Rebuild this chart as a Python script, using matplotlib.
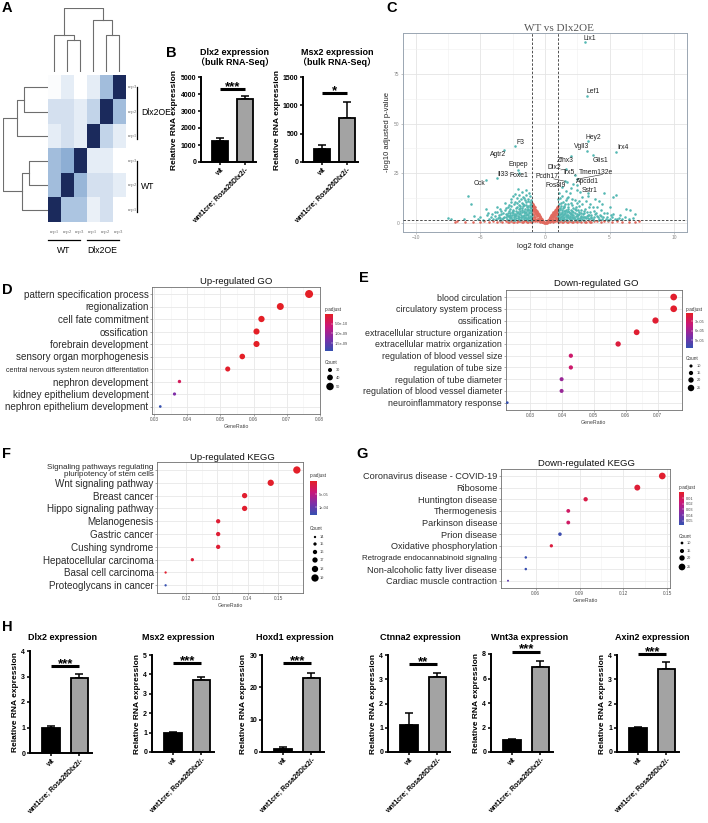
import numpy as np
import matplotlib
matplotlib.use("Agg")
import matplotlib.pyplot as plt
from matplotlib.colors import LinearSegmentedColormap, Normalize
from matplotlib.cm import ScalarMappable

plt.rcParams['font.family'] = ['Liberation Sans', 'Noto Sans CJK SC', 'DejaVu Sans']

# ======================= DATA =======================
# A: sample-to-sample heatmap
hm_row_labels = ["rep3", "rep2", "rep1", "rep3", "rep2", "rep1"]
hm_col_labels = ["rep1", "rep2", "rep3", "rep1", "rep2", "rep3"]
hm_values = [
    [0.02, 0.15, 0.00, 0.15, 0.50, 1.00],
    [0.25, 0.25, 0.15, 0.35, 1.00, 0.50],
    [0.15, 0.25, 0.15, 1.00, 0.35, 0.15],
    [0.50, 0.60, 1.00, 0.15, 0.15, 0.00],
    [0.50, 1.00, 0.55, 0.25, 0.25, 0.15],
    [1.00, 0.45, 0.45, 0.12, 0.25, 0.00],
]
hm_col_merges = [(1, 2, 0.50), (0, 6, 0.58), (4, 5, 0.58), (3, 8, 0.82), (7, 9, 1.00)]
hm_row_merges = [(0, 1, 0.54), (2, 6, 0.68), (3, 4, 0.43), (5, 8, 0.57), (7, 9, 1.00)]
hm_row_groups = ["Dlx2OE", "WT"]
hm_col_groups = ["WT", "Dlx2OE"]

# B: bulk RNA-seq bars
groups = ["wt", "wnt1cre; Rosa26Dlx2/-"]
bulk_genes = ["Dlx2", "Msx2"]
bulk_means = [[1230, 3690], [235, 776]]
bulk_sems = [[190, 170], [70, 290]]
bulk_sig = ["***", "*"]
bulk_sig_y = [4310, 1218]
bulk_ymax = [5000, 1500]
bulk_ystep = [1000, 500]

# C: volcano
down_x = [-7.5, -7.3, -6.0, -5.7, -4.6, -4.5, -4.0, -3.9, -3.6, -3.4, -3.2, -3.0, -2.9, -2.8, -2.7, -2.6,
          -2.5, -2.4, -2.3, -2.2, -2.1, -2.0, -1.9, -1.8, -1.8, -1.7, -1.6, -1.6, -1.5, -1.5, -1.4, -1.4,
          -1.3, -1.3, -1.2, -1.2, -1.1, -1.1, -1.05, -1.9, -2.1, -2.3, -2.6, -3.1, -3.3, -2.0, -1.6, -1.3,
          -2.5, -3.5, -1.7, -2.2, -1.5, -1.2, -1.1, -2.7, -3.7, -2.4, -2.8, -1.45,
          -1.05, -1.1, -1.15, -1.25, -1.25, -1.35, -1.35, -1.45, -1.5, -1.55, -1.65, -1.65, -1.75, -1.75,
          -1.85, -1.85, -1.95, -2.05, -2.05, -2.15, -2.25, -2.25, -2.35, -2.45, -2.55, -2.65, -2.75,
          -2.85, -2.95, -3.05, -3.25, -3.45, -3.55, -3.8, -4.2, -1.1, -1.4, -1.9, -2.3, -2.8, -4.8,
          -5.2, -1.2, -1.35, -1.6,
          -1.02, -1.08, -1.12, -1.18, -1.22, -1.28, -1.32, -1.38, -1.42, -1.48, -1.52, -1.58, -1.62, -1.68,
          -1.72, -1.78, -1.82, -1.88, -1.92, -1.98, -2.02, -2.08, -2.12, -2.18, -2.22, -2.28, -2.32, -2.38,
          -2.42, -2.48, -2.52, -2.58, -2.62, -2.68, -2.72, -2.78, -2.88, -2.92, -3.02, -3.12, -3.22, -3.38,
          -3.5, -3.65, -3.75, -3.9, -4.1, -4.3, -4.4, -5.0, -5.5, -6.3, -1.55, -1.85, -2.45, -1.25, -2.0]
down_y = [2.6, 1.8, 13.5, 9.5, 7.2, 3.8, 2.2, 5.5, 4.0, 6.0, 3.0, 7.5, 5.2, 9.0, 2.5, 12.0,
          6.5, 4.0, 14.5, 8.0, 17.0, 11.0, 5.0, 15.5, 3.0, 9.5, 12.5, 6.0, 16.5, 2.5, 8.0, 4.5,
          11.0, 6.5, 3.5, 9.0, 5.0, 2.0, 7.5, 7.5, 3.5, 10.5, 8.5, 10.0, 2.0, 2.2, 1.8, 1.6,
          1.7, 1.6, 13.0, 12.5, 10.5, 13.5, 11.5, 4.0, 8.2, 2.8, 6.0, 14.0,
          3.2, 6.2, 8.2, 2.6, 4.8, 3.0, 7.2, 5.5, 3.8, 7.0, 2.4, 4.2, 5.5, 7.8,
          2.0, 4.0, 6.2, 3.0, 9.0, 4.8, 2.4, 6.0, 3.5, 5.0, 2.2, 3.2, 7.0,
          3.6, 2.2, 4.5, 5.2, 2.6, 3.2, 2.0, 3.0, 1.6, 1.9, 1.5, 1.6, 1.5, 1.6,
          2.0, 10.5, 12.0, 9.0,
          4.2, 2.8, 9.8, 6.8, 5.6, 8.6, 4.0, 2.2, 6.8, 9.2, 4.8, 3.0, 5.4, 8.4,
          3.6, 6.6, 10.2, 3.2, 8.6, 4.4, 7.0, 2.6, 5.8, 10.0, 3.8, 7.6, 4.4, 9.4,
          2.0, 6.0, 3.8, 5.6, 10.8, 2.8, 5.0, 3.4, 8.0, 4.2, 3.0, 6.4, 2.4, 4.6,
          7.0, 2.4, 5.8, 3.4, 4.4, 2.0, 5.0, 2.8, 3.6, 2.2, 11.5, 12.0, 13.5, 15.0, 14.0]
up_x = [1.1, 1.2, 1.3, 1.1, 1.4, 1.5, 1.6, 1.7, 1.8, 1.9, 2.0, 2.1, 2.2, 2.3, 2.4, 2.5, 2.6, 2.8,
        2.9, 3.0, 3.1, 3.3, 3.5, 3.6, 3.8, 4.0, 4.2, 4.4, 4.6, 4.8, 5.0, 5.2, 5.3, 5.5, 5.8, 6.0,
        6.3, 6.6, 7.0, 6.8, 1.2, 1.5, 1.9, 2.7, 3.4, 4.9, 5.6, 1.3, 1.6, 2.0, 1.0, 1.25, 1.45, 1.75,
        2.15, 2.45, 3.2, 2.7, 3.9, 3.7, 4.3, 1.05, 1.35, 2.2,
        1.05, 1.1, 1.15, 1.2, 1.25, 1.3, 1.35, 1.4, 1.45, 1.5, 1.55, 1.6, 1.65, 1.7, 1.75, 1.8, 1.85,
        1.9, 1.95, 2.0, 2.05, 2.1, 2.2, 2.25, 2.3, 2.35, 2.45, 2.55, 2.65, 2.75, 2.85, 2.95, 3.05,
        3.15, 3.25, 3.45, 3.55, 3.75, 3.85, 4.1, 4.25, 4.5, 4.7, 5.1, 5.4, 6.2, 1.1, 1.4, 1.7, 2.0,
        2.3, 2.6, 3.0, 3.7, 4.2, 4.0, 4.4, 3.3, 2.5, 1.8, 1.25, 1.15,
        1.02, 1.08, 1.12, 1.18, 1.22, 1.28, 1.32, 1.38, 1.42, 1.48, 1.52, 1.58, 1.62, 1.68, 1.72, 1.78,
        1.82, 1.88, 1.92, 1.98, 2.02, 2.08, 2.12, 2.18, 2.28, 2.32, 2.38, 2.42, 2.48, 2.52, 2.58, 2.62,
        2.72, 2.78, 2.82, 2.92, 3.02, 3.08, 3.22, 3.35, 3.42, 3.6, 3.8, 3.95, 4.15, 4.35, 4.6, 4.8,
        5.0, 5.3, 5.7, 6.5, 2.1, 2.6, 1.6, 3.4, 2.9]
up_y = [9.5, 7.0, 5.0, 4.0, 10.5, 8.0, 3.5, 12.5, 6.0, 15.0, 4.5, 9.0, 2.5, 11.5, 6.5, 3.5, 8.5, 5.0,
        13.0, 2.8, 7.0, 4.0, 9.5, 2.5, 6.0, 3.5, 11.0, 2.2, 15.0, 5.0, 8.0, 2.8, 13.0, 14.2, 4.0, 2.0,
        7.2, 6.5, 4.3, 2.5, 2.0, 1.8, 2.0, 1.7, 1.8, 1.6, 1.9, 13.5, 16.0, 17.5, 12.0, 3.0, 6.0, 9.5,
        7.5, 10.0, 11.0, 15.5, 12.0, 8.0, 6.5, 15.0, 18.0, 19.5,
        2.5, 5.5, 7.8, 3.2, 4.6, 2.2, 6.5, 3.8, 8.8, 2.8, 5.2, 6.8, 2.2, 4.2, 3.0, 8.0, 2.5,
        4.8, 3.4, 6.5, 2.2, 3.8, 5.5, 3.0, 7.2, 2.2, 4.5, 2.6, 5.8, 3.2, 2.2, 4.4, 6.0,
        2.4, 3.5, 5.4, 3.0, 2.2, 4.5, 2.8, 4.2, 3.2, 2.0, 3.8, 2.2, 3.0, 1.5, 1.6, 1.5, 1.6,
        1.5, 1.6, 1.5, 1.6, 1.5, 8.0, 9.5, 13.5, 16.5, 13.0, 10.0, 12.5,
        3.6, 6.8, 2.0, 4.4, 8.6, 5.8, 3.6, 7.4, 2.4, 4.6, 6.2, 9.4, 4.0, 2.8, 5.8, 3.8,
        7.0, 5.6, 2.8, 10.0, 5.0, 3.0, 6.0, 4.0, 2.6, 5.0, 3.6, 8.0, 2.2, 6.6, 3.8, 4.6,
        2.4, 6.8, 3.6, 2.8, 4.8, 3.0, 5.4, 2.4, 4.2, 4.0, 3.2, 5.2, 2.2, 3.6, 4.8, 3.0,
        2.0, 4.6, 2.6, 2.0, 12.0, 11.0, 11.5, 8.2, 9.6]
ns_x = [0.0, -0.05, 0.05, -0.1, 0.1, -0.15, 0.15, -0.2, 0.2, -0.25, 0.25, -0.3, 0.3, -0.35, 0.35,
        -0.4, 0.4, -0.45, 0.45, -0.5, 0.5, -0.55, 0.55, -0.6, 0.6, -0.65, 0.65, -0.7, 0.7, -0.75, 0.75,
        -0.8, 0.8, -0.85, 0.85, -0.9, 0.9, -0.95, 0.95, -0.98, 0.98,
        -0.3, 0.3, -0.4, 0.4, -0.5, 0.5, -0.6, 0.6, -0.7, 0.7, -0.8, 0.8, -0.9, 0.9, -0.95, 0.95,
        -0.5, 0.5, -0.7, 0.7, -0.9, 0.9, -0.85, 0.85, -0.65, 0.65, -0.75, 0.75, -0.95, 0.95,
        -0.35, 0.35, -0.6, 0.6, -0.8, 0.8, -0.95, 0.95, -0.9, 0.9,
        -0.12, 0.12, -0.22, 0.22, -0.28, 0.28, -0.32, 0.32, -0.38, 0.38, -0.42, 0.42, -0.48, 0.48,
        -0.52, 0.52, -0.58, 0.58, -0.62, 0.62, -0.68, 0.68, -0.72, 0.72, -0.78, 0.78, -0.82, 0.82,
        -0.88, 0.88, -0.92, 0.92, -0.97, 0.97, -0.55, 0.55, -0.65, 0.65, -0.75, 0.75, -0.85, 0.85,
        -0.92, 0.92, -0.98, 0.98, -0.78, 0.78, -0.88, 0.88, -0.98, 0.98, -0.45, 0.45, -0.25, 0.25,
        -7.0, -6.8, -6.2, -5.6, -5.0, -4.7, -4.3, -4.0, -3.7, -3.5, -3.3, -3.0, -2.8, -2.6, -2.4, -2.2,
        -2.0, -1.8, -1.6, -1.4, -1.2, -1.1, 1.1, 1.2, 1.4, 1.6, 1.8, 2.0, 2.2, 2.4, 2.6, 2.8, 3.0, 3.2,
        3.4, 3.6, 3.8, 4.0, 4.3, 4.6, 4.9, 5.2, 5.6, 6.0, 6.5, 7.0, 7.3,
        -2.9, -2.5, -2.1, -1.7, -1.3, -1.5, -1.9, 1.3, 1.5, 1.7, 1.9, 2.1, 2.3, 2.5, 2.7, 3.1, 3.5]
ns_y = [0.05, 0.2, 0.15, 0.6, 0.4, 1.0, 0.8, 1.4, 1.2, 1.9, 1.6, 2.5, 2.0, 3.0, 2.5,
        3.5, 3.0, 4.0, 3.4, 4.6, 3.9, 5.2, 4.4, 5.7, 4.8, 6.2, 5.3, 6.8, 5.8, 7.3, 6.3,
        7.9, 6.8, 8.5, 7.3, 9.0, 7.8, 9.6, 8.2, 10.0, 8.5,
        1.0, 0.8, 1.8, 1.5, 2.5, 2.0, 3.5, 2.8, 4.5, 3.5, 5.5, 4.5, 6.5, 5.5, 7.8, 6.5,
        1.0, 0.8, 1.5, 1.2, 2.0, 1.8, 3.8, 3.0, 2.2, 1.8, 3.0, 2.4, 4.5, 4.0,
        0.5, 0.4, 0.8, 0.6, 1.0, 0.9, 1.2, 1.0, 8.0, 6.8,
        0.3, 0.25, 0.7, 0.6, 1.5, 1.2, 1.8, 1.5, 2.3, 2.0, 2.8, 2.3, 3.3, 2.8,
        3.8, 3.2, 4.3, 3.7, 4.8, 4.0, 5.3, 4.5, 5.8, 5.0, 6.5, 5.5, 7.0, 6.0,
        7.6, 6.4, 8.3, 7.0, 8.8, 7.6, 2.0, 1.6, 4.0, 3.4, 5.0, 4.2, 6.0, 5.2,
        7.0, 6.0, 5.5, 5.0, 2.0, 1.6, 3.0, 2.4, 3.0, 2.6, 1.5, 1.2, 0.5, 0.4,
        0.3, 0.9, 0.5, 0.7, 0.3, 1.0, 0.5, 0.8, 0.3, 1.1, 0.6, 0.9, 0.4, 1.1, 0.7, 0.3,
        1.0, 0.6, 0.9, 0.4, 1.1, 0.7, 0.7, 1.1, 0.4, 0.9, 0.6, 1.1, 0.4, 0.8, 1.0, 0.5, 0.9, 0.6,
        1.1, 0.4, 0.8, 1.0, 0.5, 0.8, 1.1, 0.6, 0.9, 0.4, 0.7, 0.6, 0.9,
        0.7, 0.5, 0.8, 0.3, 0.6, 1.2, 1.2, 0.3, 1.2, 0.5, 1.2, 0.7, 1.0, 0.3, 1.2, 0.3, 0.7]
gene_names = ["Lix1", "Lef1", "Hey2", "Vgll3", "Irx4", "Glis1", "Zfhx3", "Dlx2", "Irx5", "Tmem132e",
              "Pcdh17", "Apcdd1", "Fos8l9", "Sstr1", "F3", "Agtr2", "Enpep", "Foxe1", "Il33", "Cck"]
gene_x = [3.1, 3.25, 3.3, 3.25, 5.5, 3.75, 2.0, 1.6, 2.3, 2.45, 1.55, 2.5, 1.7, 3.3,
          -2.3, -3.2, -2.1, -2.05, -3.75, -4.6]
gene_y = [90.8, 64.0, 41.0, 36.3, 35.8, 34.0, 33.8, 27.0, 24.0, 22.0, 21.0, 19.3, 20.5, 15.0,
          38.8, 36.8, 26.9, 25.0, 22.7, 21.8]

# D: up-regulated GO
go_up_terms = ["pattern specification process", "regionalization", "cell fate commitment", "ossification",
               "forebrain development", "sensory organ morphogenesis",
               "central nervous system neuron differentiation", "nephron development",
               "kidney epithelium development", "nephron epithelium development"]
go_up_ratio = [0.0768, 0.0681, 0.0624, 0.0609, 0.0609, 0.0566, 0.0522, 0.0376, 0.0361, 0.0318]
go_up_count = [53, 47, 43, 42, 42, 39, 36, 26, 25, 22]
go_up_padj = [1e-14, 5e-13, 2e-12, 5e-12, 5e-12, 1e-11, 5e-11, 4e-10, 1.25e-9, 1.9e-9]

# E: down-regulated GO
go_down_terms = ["blood circulation", "circulatory system process", "ossification",
                 "extracellular structure organization", "extracellular matrix organization",
                 "regulation of blood vessel size", "regulation of tube size", "regulation of tube diameter",
                 "regulation of blood vessel diameter", "neuroinflammatory response"]
go_down_ratio = [0.0750, 0.0750, 0.0693, 0.0634, 0.0576, 0.0428, 0.0428, 0.0399, 0.0399, 0.0229]
go_down_count = [26, 26, 24, 22, 20, 15, 15, 14, 14, 8]
go_down_padj = [8e-6, 8e-6, 1e-5, 1e-5, 1.5e-5, 3.5e-5, 3.5e-5, 6.5e-5, 6.5e-5, 1.15e-4]

# F: up-regulated KEGG
kegg_up_terms = ["Signaling pathways regulating\npluripotency of stem cells", "Wnt signaling pathway",
                 "Breast cancer", "Hippo signaling pathway", "Melanogenesis", "Gastric cancer",
                 "Cushing syndrome", "Hepatocellular carcinoma", "Basal cell carcinoma",
                 "Proteoglycans in cancer"]
kegg_up_ratio = [0.1560, 0.1475, 0.1390, 0.1390, 0.1304, 0.1304, 0.1304, 0.1220, 0.1133, 0.1133]
kegg_up_count = [19, 18, 17, 17, 16, 16, 16, 15, 14, 14]
kegg_up_padj = [2e-6, 3e-6, 5e-6, 5e-6, 8e-6, 8e-6, 8e-6, 1e-5, 5e-6, 1.3e-4]

# G: down-regulated KEGG
kegg_down_terms = ["Coronavirus disease - COVID-19", "Ribosome", "Huntington disease", "Thermogenesis",
                   "Parkinson disease", "Prion disease", "Oxidative phosphorylation",
                   "Retrograde endocannabinoid signaling", "Non-alcoholic fatty liver disease",
                   "Cardiac muscle contraction"]
kegg_down_ratio = [0.1467, 0.1296, 0.0942, 0.0823, 0.0823, 0.0766, 0.0707, 0.0532, 0.0532, 0.0410]
kegg_down_count = [25, 22, 16, 14, 14, 13, 12, 9, 9, 7]
kegg_down_padj = [0.0005, 0.002, 0.006, 0.013, 0.013, 0.056, 0.004, 0.057, 0.057, 0.046]

# H: qPCR bars
qpcr_genes = ["Dlx2", "Msx2", "Hoxd1", "Ctnna2", "Wnt3a", "Axin2"]
qpcr_means = [[1.0, 2.95], [1.0, 3.7], [1.03, 23.0], [1.1, 3.1], [1.0, 6.9], [1.0, 3.41]]
qpcr_sems = [[0.04, 0.15], [0.02, 0.18], [0.45, 1.5], [0.52, 0.17], [0.03, 0.5], [0.02, 0.3]]
qpcr_sig = ["***", "***", "***", "**", "***", "***"]
qpcr_sig_y = [3.42, 4.57, 27.4, 3.61, 8.2, 4.04]
qpcr_ymax = [4, 5, 30, 4, 8, 4]
qpcr_ystep = [1, 1, 10, 1, 2, 1]

# ======================= LAYOUT HELPERS =======================
W, H = 708, 823
fig = plt.figure(figsize=(W / 100, H / 100), dpi=100)
fig.patch.set_facecolor("white")


def px_axes(x0, y0, x1, y1):
    return fig.add_axes([x0 / W, 1 - y1 / H, (x1 - x0) / W, (y1 - y0) / H])


ov = fig.add_axes([0, 0, 1, 1], zorder=10)
ov.set_xlim(0, W)
ov.set_ylim(H, 0)
ov.set_axis_off()
ov.patch.set_alpha(0)


def T(x, y, s, **kw):
    return ov.text(x, y, s, **kw)


for letter, (lx, ly) in zip("ABCDEFGH", [(2, 1), (166, 46), (386, 1), (2, 283), (359, 271),
                                          (2, 447), (356, 447), (2, 620)]):
    T(lx, ly, letter, fontsize=10.5, fontweight="bold", va="top", ha="left")

# ======================= A: heatmap =======================
hm_cmap = LinearSegmentedColormap.from_list("hm", ["#ffffff", "#c6d7eb", "#7fa4cf", "#1b2a5c"])
hx0, hy0, hx1, hy1 = 48, 75, 125, 222
axh = px_axes(hx0, hy0, hx1, hy1)
axh.imshow(np.array(hm_values), cmap=hm_cmap, vmin=0, vmax=1, aspect="auto", interpolation="nearest")
axh.set_axis_off()


def dendro(ax, merges, n, top):
    pos = [float(i) for i in range(n)]
    hgt = [0.0] * n
    for a, b, h in merges:
        xs = [pos[a], pos[a], pos[b], pos[b]]
        ys = [hgt[a], h, h, hgt[b]]
        if top:
            ax.plot(xs, ys, color="#6e6e6e", lw=0.8)
        else:
            ax.plot(ys, xs, color="#6e6e6e", lw=0.8)
        pos.append((pos[a] + pos[b]) / 2)
        hgt.append(h)


axd = px_axes(hx0, 8, hx1, 72)
dendro(axd, hm_col_merges, 6, True)
axd.set_xlim(-0.5, 5.5)
axd.set_ylim(0, 1.0)
axd.set_axis_off()
axr = px_axes(3, hy0, hx0, hy1)
dendro(axr, hm_row_merges, 6, False)
axr.set_ylim(5.5, -0.5)
axr.set_xlim(1.0, 0.0)
axr.set_axis_off()

ch = (hy1 - hy0) / 6
cw = (hx1 - hx0) / 6
for i, lab in enumerate(hm_row_labels):
    T(hx1 + 3, hy0 + (i + 0.5) * ch, lab, fontsize=3.8, family="Liberation Serif", color="#777777",
      va="center", ha="left")
for j, lab in enumerate(hm_col_labels):
    T(hx0 + (j + 0.5) * cw, 232, lab, fontsize=3.8, family="Liberation Serif", color="#777777",
      va="center", ha="center")
for k, g in enumerate(hm_row_groups):
    ya = hy0 + (3 * k + 0.5) * ch
    yb = hy0 + (3 * k + 2.6) * ch
    ov.plot([137.3, 137.3], [ya, yb], color="black", lw=0.9)
    T(141, (ya + yb) / 2, g, fontsize=6.2, va="center", ha="left")
for k, g in enumerate(hm_col_groups):
    xa = hx0 + (3 * k) * cw
    xb = hx0 + (3 * k + 2.5) * cw
    ov.plot([xa, xb], [240, 240], color="black", lw=0.9)
    T((xa + xb) / 2, 250, g, fontsize=6.2, va="center", ha="center")


# ======================= bar helper (B, H) =======================
def bar_panel(rect, means, sems, ymax, ystep, sig, sig_y, title_lines, title_cx, title_y0):
    ax = px_axes(*rect)
    xs = np.arange(len(groups))
    ax.errorbar(xs, means, yerr=[np.zeros(len(xs)), sems], fmt="none", ecolor="black",
                elinewidth=1.1, capsize=2.6, capthick=1.1, zorder=1)
    ax.bar(xs, means, width=0.62, color=["#000000", "#a3a3a3"], edgecolor="black", linewidth=1.3, zorder=2)
    ax.plot([xs[0], xs[1]], [sig_y, sig_y], color="black", lw=2.2, solid_capstyle="butt", zorder=3,
            clip_on=False)
    ax.annotate(sig, (0.5, sig_y), xytext=(0, -0.8), textcoords="offset points", ha="center",
                va="baseline", fontsize=9.5, fontweight="bold", annotation_clip=False)
    ax.set_xlim(-0.75, 1.45)
    ax.set_ylim(0, ymax)
    ticks = np.arange(0, ymax + 1e-9, ystep)
    ax.set_yticks(ticks)
    ax.set_yticklabels([f"{t:g}" for t in ticks], fontsize=5, fontweight="bold")
    for s in ["top", "right"]:
        ax.spines[s].set_visible(False)
    for s in ["left", "bottom"]:
        ax.spines[s].set_linewidth(1.4)
    ax.tick_params(width=1.1, length=2.5, pad=1)
    ax.set_xticks(xs)
    ax.set_xticklabels(groups, rotation=45, ha="right", rotation_mode="anchor", fontsize=5,
                       fontweight="bold")
    ax.set_ylabel("Relative RNA expression", fontsize=6, fontweight="bold", labelpad=1.5)
    for k, line in enumerate(title_lines):
        T(title_cx, title_y0 + k * 10, line, fontsize=6.5, fontweight="bold", ha="center", va="center")
    return ax


b_rects = [(201, 77, 256, 162), (303, 77, 358, 162)]
b_title_cx = [235, 337]
for i in range(2):
    bar_panel(b_rects[i], bulk_means[i], bulk_sems[i], bulk_ymax[i], bulk_ystep[i], bulk_sig[i],
              bulk_sig_y[i], [f"{bulk_genes[i]} expression", "（bulk RNA-Seq）"], b_title_cx[i], 52)

h_rects = [(30, 651, 92, 753), (152, 655, 214, 752), (262, 655, 324, 752),
           (388, 655, 450, 752), (491, 654, 553, 752), (617, 655, 679, 752)]
h_title_cx = [63, 178, 295, 420, 530, 652]
for i in range(6):
    bar_panel(h_rects[i], qpcr_means[i], qpcr_sems[i], qpcr_ymax[i], qpcr_ystep[i], qpcr_sig[i],
              qpcr_sig_y[i], [f"{qpcr_genes[i]} expression"], h_title_cx[i], 638)

# ======================= C: volcano =======================
axv = px_axes(403, 33, 687, 232)
axv.set_xlim(-11, 11)
axv.set_ylim(-4.5, 95.5)
axv.set_xticks([-10, -5, 0, 5, 10])
axv.set_yticks([0, 25, 50, 75])
axv.set_xticks([-7.5, -2.5, 2.5, 7.5], minor=True)
axv.set_yticks([12.5, 37.5, 62.5, 87.5], minor=True)
axv.grid(True, which="major", color="#e4e4e4", lw=0.6)
axv.grid(True, which="minor", color="#f0f0f0", lw=0.4)
axv.set_axisbelow(True)
axv.tick_params(which="major", labelsize=3.5, length=1.5, color="#999999", labelcolor="#888888",
                width=0.4, pad=1)
axv.tick_params(which="minor", length=0)
for s in axv.spines.values():
    s.set_color("#9aa6b2")
    s.set_linewidth(0.7)
red_c, teal_c = "#e06a5f", "#54b8b3"
axv.scatter(ns_x, ns_y, s=3.4, color=red_c, lw=0, zorder=2)
axv.scatter(down_x, down_y, s=3.4, color=teal_c, lw=0, zorder=2)
axv.scatter(up_x, up_y, s=3.4, color=teal_c, lw=0, zorder=2)
axv.scatter(gene_x, gene_y, s=3.4, color=teal_c, lw=0, zorder=2)
for xv in (-1, 1):
    axv.axvline(xv, ls=(0, (3, 2)), color="#333333", lw=0.6, zorder=3)
axv.axhline(-np.log10(0.05), ls=(0, (3, 2)), color="#333333", lw=0.6, zorder=3)
lab_x = [3.5, 3.7, 3.76, 2.85, 6.04, 4.27, 1.58, 0.73, 1.85, 3.95, 0.18, 3.3, 0.85, 3.45,
         -1.87, -3.63, -2.1, -2.0, -3.3, -5.05]
lab_y = [92.6, 66.0, 43.0, 38.3, 38.0, 31.6, 31.6, 27.7, 25.4, 25.4, 23.2, 21.0, 19.0, 16.5,
         40.3, 34.6, 29.4, 24.0, 24.4, 19.8]
for g, gx, gy, lx, ly in zip(gene_names, gene_x, gene_y, lab_x, lab_y):
    axv.text(lx, ly, g, fontsize=4.9, ha="center", va="center", color="#222222", zorder=4)
    if g in ("Dlx2", "Irx5", "Pcdh17", "Tmem132e"):
        axv.plot([lx + 0.5, gx], [ly - 1.0, gy], color="#222222", lw=0.4, zorder=4)
axv.set_xlabel("log2 fold change", fontsize=5.5, labelpad=1.5, color="#222222")
axv.set_ylabel("-log10 adjusted p-value", fontsize=5.5, labelpad=2, color="#222222")
T(559, 28, "WT vs Dlx2OE", fontsize=8, family="Liberation Serif", color="#555555", ha="center",
  va="center")

# ======================= D-G: dot plots =======================
p_cmap = LinearSegmentedColormap.from_list("padj", ["#e41f26", "#c8187a", "#7d2fa8", "#3550b0"])


def size_fn(c, cmin, cmax, dmin, dmax):
    d = dmin + (np.asarray(c, float) - cmin) / (cmax - cmin) * (dmax - dmin)
    return (d * 0.72) ** 2


def dotplot(rect, title, title_xy, terms, ratio, counts, padj, xlim, xticks, xtick_labels, pnorm,
            drange, fs, fs_small, leg):
    ax = px_axes(*rect)
    n = len(terms)
    ys = np.arange(n)[::-1]
    cmin, cmax = min(counts), max(counts)
    ax.scatter(ratio, ys, s=size_fn(counts, cmin, cmax, *drange), c=padj, cmap=p_cmap, norm=pnorm,
               lw=0, zorder=3)
    ax.set_xlim(*xlim)
    ax.set_ylim(-0.6, n - 0.4)
    ax.set_xticks(xticks)
    ax.set_xticklabels(xtick_labels)
    mids = [(a + b) / 2 for a, b in zip(xticks[:-1], xticks[1:])]
    ax.set_xticks(mids, minor=True)
    ax.grid(True, which="major", color="#e8e8e8", lw=0.6)
    ax.grid(True, which="minor", axis="x", color="#f2f2f2", lw=0.4)
    ax.set_axisbelow(True)
    ax.set_yticks(ys)
    ax.set_yticklabels(terms)
    for lbl, t in zip(ax.get_yticklabels(), terms):
        lbl.set_fontsize(fs_small if len(t) > 33 else fs)
        lbl.set_color("#2a2a2a")
        lbl.set_linespacing(1.0)
    ax.tick_params(axis="y", length=1.5, width=0.4, color="#666666", pad=1)
    ax.tick_params(axis="x", which="major", labelsize=3.4, length=1.5, width=0.4, color="#666666",
                   labelcolor="#555555", pad=1)
    ax.tick_params(axis="x", which="minor", length=0)
    for s in ax.spines.values():
        s.set_color("#6f6f6f")
        s.set_linewidth(0.6)
    ax.set_xlabel("GeneRatio", fontsize=3.8, labelpad=1, color="#444444")
    T(title_xy[0], title_xy[1], title, fontsize=6.8, ha="center", va="center", color="#111111")
    T(leg["pt"][0], leg["pt"][1], "p.adjust", fontsize=3.4, ha="left", va="center", color="#333333")
    cax = px_axes(*leg["bar"])
    cb = fig.colorbar(ScalarMappable(norm=pnorm, cmap=p_cmap), cax=cax)
    cax.invert_yaxis()
    cb.set_ticks(leg["ticks"])
    cb.set_ticklabels(leg["tlabels"])
    cb.outline.set_visible(False)
    cax.tick_params(labelsize=2.8, length=1.2, width=0.3, color="white", pad=1, direction="in",
                    labelcolor="#444444")
    T(leg["ct"][0], leg["ct"][1], "Count", fontsize=3.4, ha="left", va="center", color="#333333")
    ov.scatter([leg["dx"]] * len(leg["counts"]), leg["dys"],
               s=size_fn(leg["counts"], cmin, cmax, *drange), color="black", lw=0)
    for c, dy in zip(leg["counts"], leg["dys"]):
        T(leg["lx"], dy, str(c), fontsize=2.8, ha="left", va="center", color="#444444")
    return ax


dotplot((152, 286.5, 320, 414), "Up-regulated GO", (236, 281), go_up_terms, go_up_ratio, go_up_count,
        go_up_padj, (0.0293, 0.0801), [0.03, 0.04, 0.05, 0.06, 0.07, 0.08],
        ["0.03", "0.04", "0.05", "0.06", "0.07", "0.08"], Normalize(0, 1.9e-9), (2.7, 8.0), 7.1, 5.1,
        dict(pt=(325, 310), bar=(325, 314, 333, 351), ticks=[5e-10, 1e-9, 1.5e-9],
             tlabels=["5.0e-10", "1.0e-09", "1.5e-09"], ct=(325, 362), dx=330, dys=[370, 377.5, 386.5],
             counts=[30, 40, 50], lx=336))
dotplot((505.7, 290, 682, 409.7), "Down-regulated GO", (596, 284), go_down_terms, go_down_ratio,
        go_down_count, go_down_padj, (0.0224, 0.0776), [0.03, 0.04, 0.05, 0.06, 0.07],
        ["0.03", "0.04", "0.05", "0.06", "0.07"], Normalize(4.7e-6, 1.15e-4), (2.7, 6.7), 6.4, 6.4,
        dict(pt=(686, 310), bar=(686, 313, 693, 348), ticks=[3e-5, 6e-5, 9e-5],
             tlabels=["3e-05", "6e-05", "9e-05"], ct=(686, 358), dx=691, dys=[366, 373, 380, 388],
             counts=[10, 15, 20, 25], lx=697))
dotplot((157, 462.3, 303, 593), "Up-regulated KEGG", (232, 457), kegg_up_terms, kegg_up_ratio,
        kegg_up_count, kegg_up_padj, (0.1105, 0.1580), [0.12, 0.13, 0.14, 0.15],
        ["0.12", "0.13", "0.14", "0.15"], Normalize(0, 1.3e-4), (2.3, 7.3), 7.1, 5.8,
        dict(pt=(310, 475), bar=(310, 481, 317, 515), ticks=[5e-5, 1e-4],
             tlabels=["5e-05", "1e-04"], ct=(310, 529), dx=315, dys=[537, 544, 552, 560, 569, 578],
             counts=[14, 15, 16, 17, 18, 19], lx=320))
dotplot((500.7, 469, 670, 587.7), "Down-regulated KEGG", (587, 463), kegg_down_terms, kegg_down_ratio,
        kegg_down_count, kegg_down_padj, (0.036, 0.152), [0.06, 0.09, 0.12, 0.15],
        ["0.06", "0.09", "0.12", "0.15"], Normalize(-0.002, 0.058), (2.0, 6.7), 6.6, 5.7,
        dict(pt=(679, 487), bar=(679, 491.7, 684, 525),
             ticks=[0.01, 0.02, 0.03, 0.04, 0.05], tlabels=["0.01", "0.02", "0.03", "0.04", "0.05"],
             ct=(679, 537), dx=682, dys=[543, 551, 558, 567], counts=[10, 15, 20, 25], lx=687))

fig.savefig("out.png", dpi=100, facecolor="white")
